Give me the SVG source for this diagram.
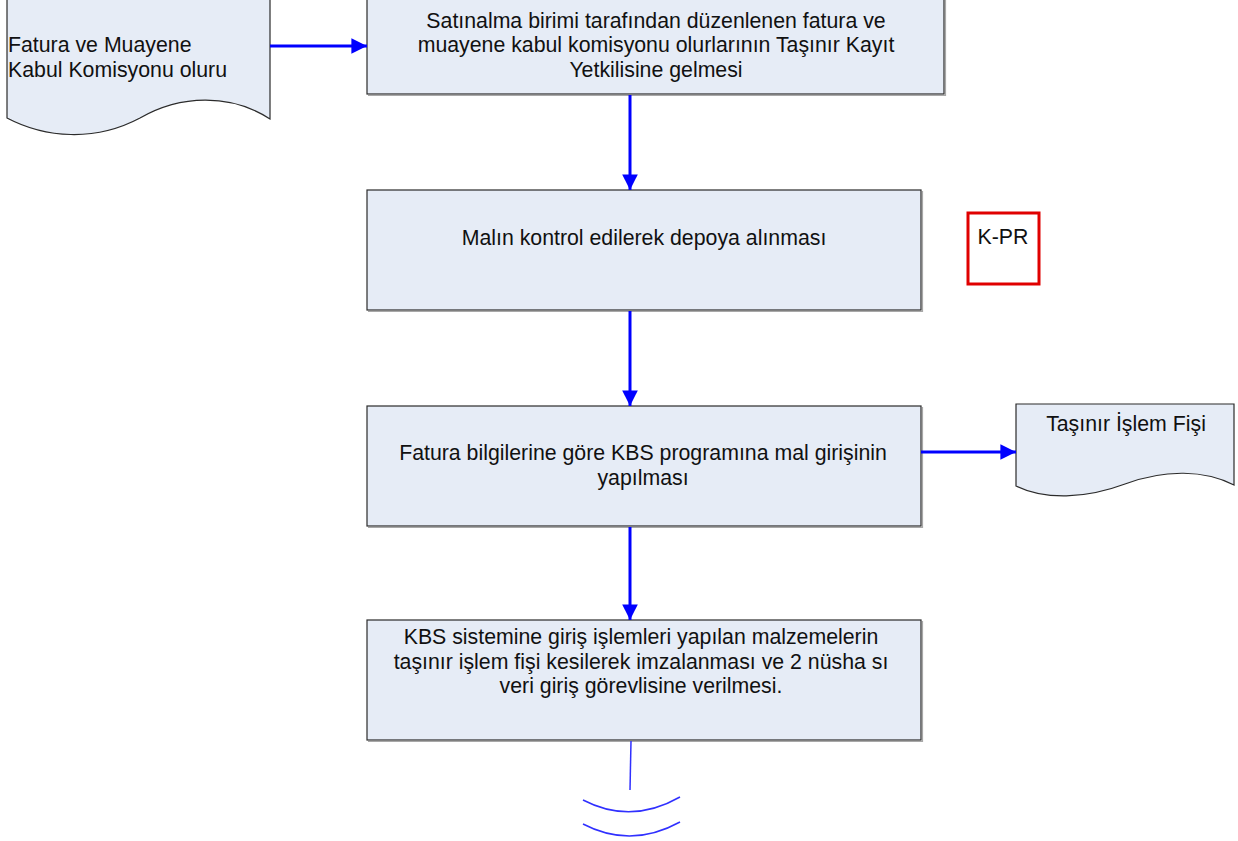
<svg xmlns="http://www.w3.org/2000/svg" width="1238" height="841" viewBox="0 0 1238 841">
<defs>
<style>
.box{fill:#E6ECF6;stroke:#2b2b2b;stroke-width:1.2}
.shadow{fill:none;stroke:#a8a8a8;stroke-width:1.2}
.t{font-family:"Liberation Sans",Arial,sans-serif;font-size:21.3px;fill:#111}
.c{text-anchor:middle}
.conn{stroke:#0000FF;stroke-width:3;fill:none}
.thin{stroke:#3030FF;stroke-width:1.5;fill:none}
</style>
<marker id="ah" viewBox="0 0 10 10" refX="10" refY="5" markerWidth="5.2" markerHeight="5.2" markerUnits="strokeWidth" orient="auto">
<path d="M0,0 L10,5 L0,10 Z" fill="#0000FF"/>
</marker>
</defs>
<rect width="1238" height="841" fill="#ffffff"/>

<g id="doc-fatura">
<path class="box" d="M7,-10 H270 V119 C230,93 180,95 140,118 C95,142 45,138 7,118 Z"/>
<text class="t" x="8" y="52">Fatura ve Muayene</text>
<text class="t" x="8" y="77">Kabul Komisyonu oluru</text>
</g>

<g id="box1">
<path class="shadow" d="M945.5,-10 V95.5 H368"/>
<rect class="box" x="367" y="-10" width="577" height="104"/>
<text class="t c" x="656" y="27.5">Satınalma birimi tarafından düzenlenen fatura ve</text>
<text class="t c" x="656" y="52">muayene kabul komisyonu olurlarının Taşınır Kayıt</text>
<text class="t c" x="656" y="76.5">Yetkilisine gelmesi</text>
</g>

<g id="box2">
<path class="shadow" d="M922.5,191 V311.5 H368"/>
<rect class="box" x="367" y="190" width="554" height="120"/>
<text class="t c" x="644" y="245">Malın kontrol edilerek depoya alınması</text>
</g>

<g id="kpr">
<rect x="968" y="213" width="71" height="71" fill="#ffffff" stroke="#E00000" stroke-width="3"/>
<text class="t c" x="1003" y="244">K-PR</text>
</g>

<g id="box3">
<path class="shadow" d="M922.5,407 V527.5 H368"/>
<rect class="box" x="367" y="406" width="554" height="120"/>
<text class="t c" x="643" y="460">Fatura bilgilerine göre KBS programına mal girişinin</text>
<text class="t c" x="643" y="485">yapılması</text>
</g>

<g id="doc-tif">
<path class="box" d="M1016,404 H1234 V485 C1205,470 1165,469 1125,484 C1085,499 1045,500 1016,486 Z"/>
<text class="t c" x="1126" y="431">Taşınır İşlem Fişi</text>
</g>

<g id="box4">
<path class="shadow" d="M922.5,621 V741.5 H368"/>
<rect class="box" x="367" y="620" width="554" height="120"/>
<text class="t c" x="641" y="644">KBS sistemine giriş işlemleri yapılan malzemelerin</text>
<text class="t c" x="641" y="668.5">taşınır işlem fişi kesilerek imzalanması ve 2 nüsha sı</text>
<text class="t c" x="641" y="693">veri giriş görevlisine verilmesi.</text>
</g>

<g id="connectors">
<line class="conn" x1="270" y1="46" x2="367" y2="46" marker-end="url(#ah)"/>
<line class="conn" x1="630" y1="95" x2="630" y2="190" marker-end="url(#ah)"/>
<line class="conn" x1="630" y1="311" x2="630" y2="406" marker-end="url(#ah)"/>
<line class="conn" x1="921" y1="452" x2="1016" y2="452" marker-end="url(#ah)"/>
<line class="conn" x1="630" y1="527" x2="630" y2="620" marker-end="url(#ah)"/>
<line class="thin" x1="631" y1="741" x2="630" y2="790"/>
<path class="thin" d="M583,800 Q631,825 680,797"/>
<path class="thin" d="M583,824 Q631,849 680,822"/>
</g>
</svg>
